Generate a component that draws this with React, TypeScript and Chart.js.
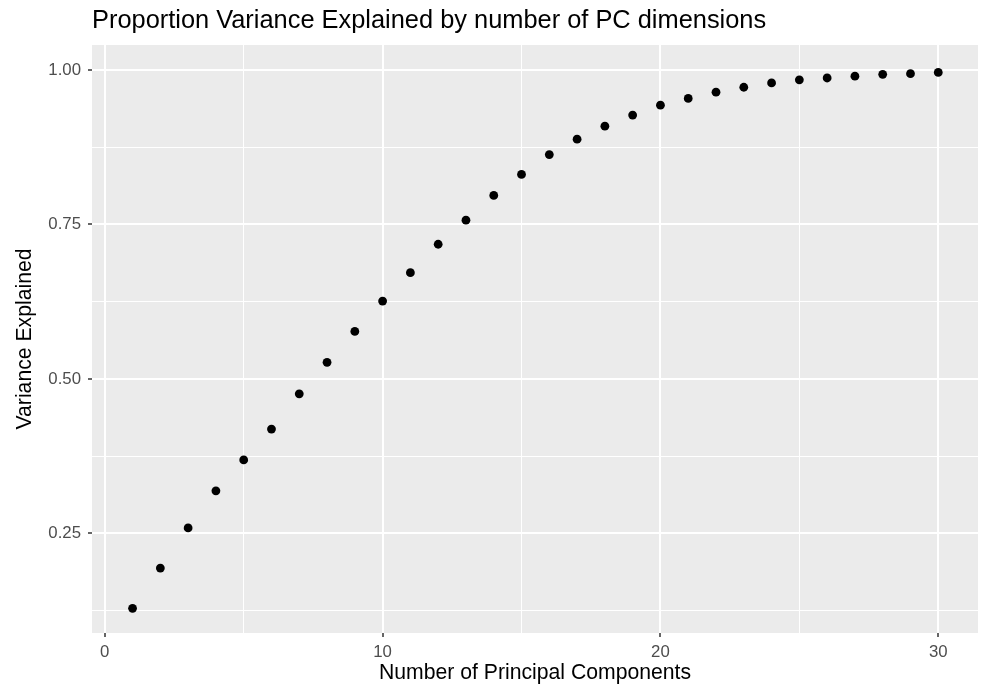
import React, { useEffect, useRef } from "react";
import { Chart, registerables } from "chart.js";

Chart.register(...registerables);

const components = [1, 2, 3, 4, 5, 6, 7, 8, 9, 10, 11, 12, 13, 14, 15, 16, 17, 18, 19, 20, 21, 22, 23, 24, 25, 26, 27, 28, 29, 30];
const varianceExplained = [
  0.129, 0.194, 0.259, 0.319, 0.369, 0.419, 0.476, 0.527, 0.577, 0.626,
  0.672, 0.718, 0.757, 0.797, 0.831, 0.863, 0.888, 0.909, 0.927, 0.943,
  0.954, 0.964, 0.972, 0.979, 0.984, 0.987, 0.990, 0.993, 0.994, 0.996,
];
const xTickValues = [0, 5, 10, 15, 20, 25, 30];
const xMajorTicks = [0, 10, 20, 30];
const yTickValues = [0.125, 0.25, 0.375, 0.5, 0.625, 0.75, 0.875, 1.0];
const yMajorTicks = [0.25, 0.5, 0.75, 1.0];

const TITLE = "Proportion Variance Explained by number of PC dimensions";
const X_TITLE = "Number of Principal Components";
const Y_TITLE = "Variance Explained";

const FONT = "'Liberation Sans', Arial, Helvetica, sans-serif";

const isMajor = (list: number[], v: number) => list.some((m) => Math.abs(m - v) < 1e-9);

const panelBg = {
  id: "panelBg",
  beforeDraw(chart: any) {
    const { ctx, chartArea } = chart;
    ctx.save();
    ctx.fillStyle = "#EBEBEB";
    ctx.fillRect(chartArea.left, chartArea.top, chartArea.right - chartArea.left, chartArea.bottom - chartArea.top);
    ctx.restore();
  },
};

export default function App() {
  const ref = useRef<HTMLCanvasElement | null>(null);

  useEffect(() => {
    if (!ref.current) return;
    const chart = new Chart(ref.current, {
      type: "scatter",
      data: {
        datasets: [
          {
            data: components.map((c, i) => ({ x: c, y: varianceExplained[i] })),
            backgroundColor: "#000000",
            borderWidth: 0,
            pointRadius: 4.4,
            pointHoverRadius: 4.4,
          },
        ],
      },
      plugins: [panelBg],
      options: {
        animation: false,
        responsive: false,
        devicePixelRatio: 1,
        layout: { padding: { left: 0, right: 8, top: 0, bottom: 0 } },
        plugins: {
          legend: { display: false },
          tooltip: { enabled: false },
          title: {
            display: true,
            text: TITLE,
            align: "start",
            fullSize: false,
            color: "#000000",
            font: { family: FONT, size: 25.4, weight: "normal", lineHeight: 1.2 },
            padding: { top: 6, bottom: 8.5 },
          },
        },
        scales: {
          x: {
            type: "linear",
            min: -0.46,
            max: 31.43,
            afterBuildTicks: (scale: any) => {
              scale.ticks = xTickValues.map((v) => ({ value: v }));
            },
            afterFit: (scale: any) => {
              scale.height = 55;
            },
            border: { display: false },
            grid: {
              color: "#FFFFFF",
              lineWidth: (ctx: any) => (ctx.tick && isMajor(xMajorTicks, ctx.tick.value) ? 2 : 1),
              drawTicks: true,
              tickLength: 4,
              tickWidth: 1.5,
              tickColor: (ctx: any) => (ctx.tick && isMajor(xMajorTicks, ctx.tick.value) ? "#333333" : "rgba(0,0,0,0)"),
            },
            ticks: {
              autoSkip: false,
              maxRotation: 0,
              padding: 5,
              color: "#4D4D4D",
              font: { family: FONT, size: 16.8, lineHeight: 1.2 },
              callback: (v: any) => (isMajor(xMajorTicks, Number(v)) ? String(v) : ""),
            },
            title: {
              display: true,
              text: X_TITLE,
              color: "#000000",
              font: { family: FONT, size: 21.2, lineHeight: 1.2 },
              padding: { top: 0, bottom: 2.6 },
            },
          },
          y: {
            type: "linear",
            min: 0.089,
            max: 1.0404,
            afterBuildTicks: (scale: any) => {
              scale.ticks = yTickValues.map((v) => ({ value: v }));
            },
            afterFit: (scale: any) => {
              scale.width = 92;
            },
            border: { display: false },
            grid: {
              color: "#FFFFFF",
              lineWidth: (ctx: any) => (ctx.tick && isMajor(yMajorTicks, ctx.tick.value) ? 2 : 1),
              drawTicks: true,
              tickLength: 4,
              tickWidth: 1.5,
              tickColor: (ctx: any) => (ctx.tick && isMajor(yMajorTicks, ctx.tick.value) ? "#333333" : "rgba(0,0,0,0)"),
            },
            ticks: {
              autoSkip: false,
              padding: 7,
              color: "#4D4D4D",
              font: { family: FONT, size: 16.8, lineHeight: 1.2 },
              callback: (v: any) => (isMajor(yMajorTicks, Number(v)) ? Number(v).toFixed(2) : ""),
            },
            title: {
              display: true,
              text: Y_TITLE,
              color: "#000000",
              font: { family: FONT, size: 21.2, lineHeight: 1.2 },
              padding: { top: 12.3, bottom: 0 },
            },
          },
        },
      },
    } as any);
    return () => chart.destroy();
  }, []);

  return (
    <div style={{ position: "fixed", left: 0, top: 0, width: 986, height: 688, background: "#FFFFFF" }}>
      <canvas ref={ref} width={986} height={688} style={{ width: 986, height: 688, display: "block" }} />
    </div>
  );
}
